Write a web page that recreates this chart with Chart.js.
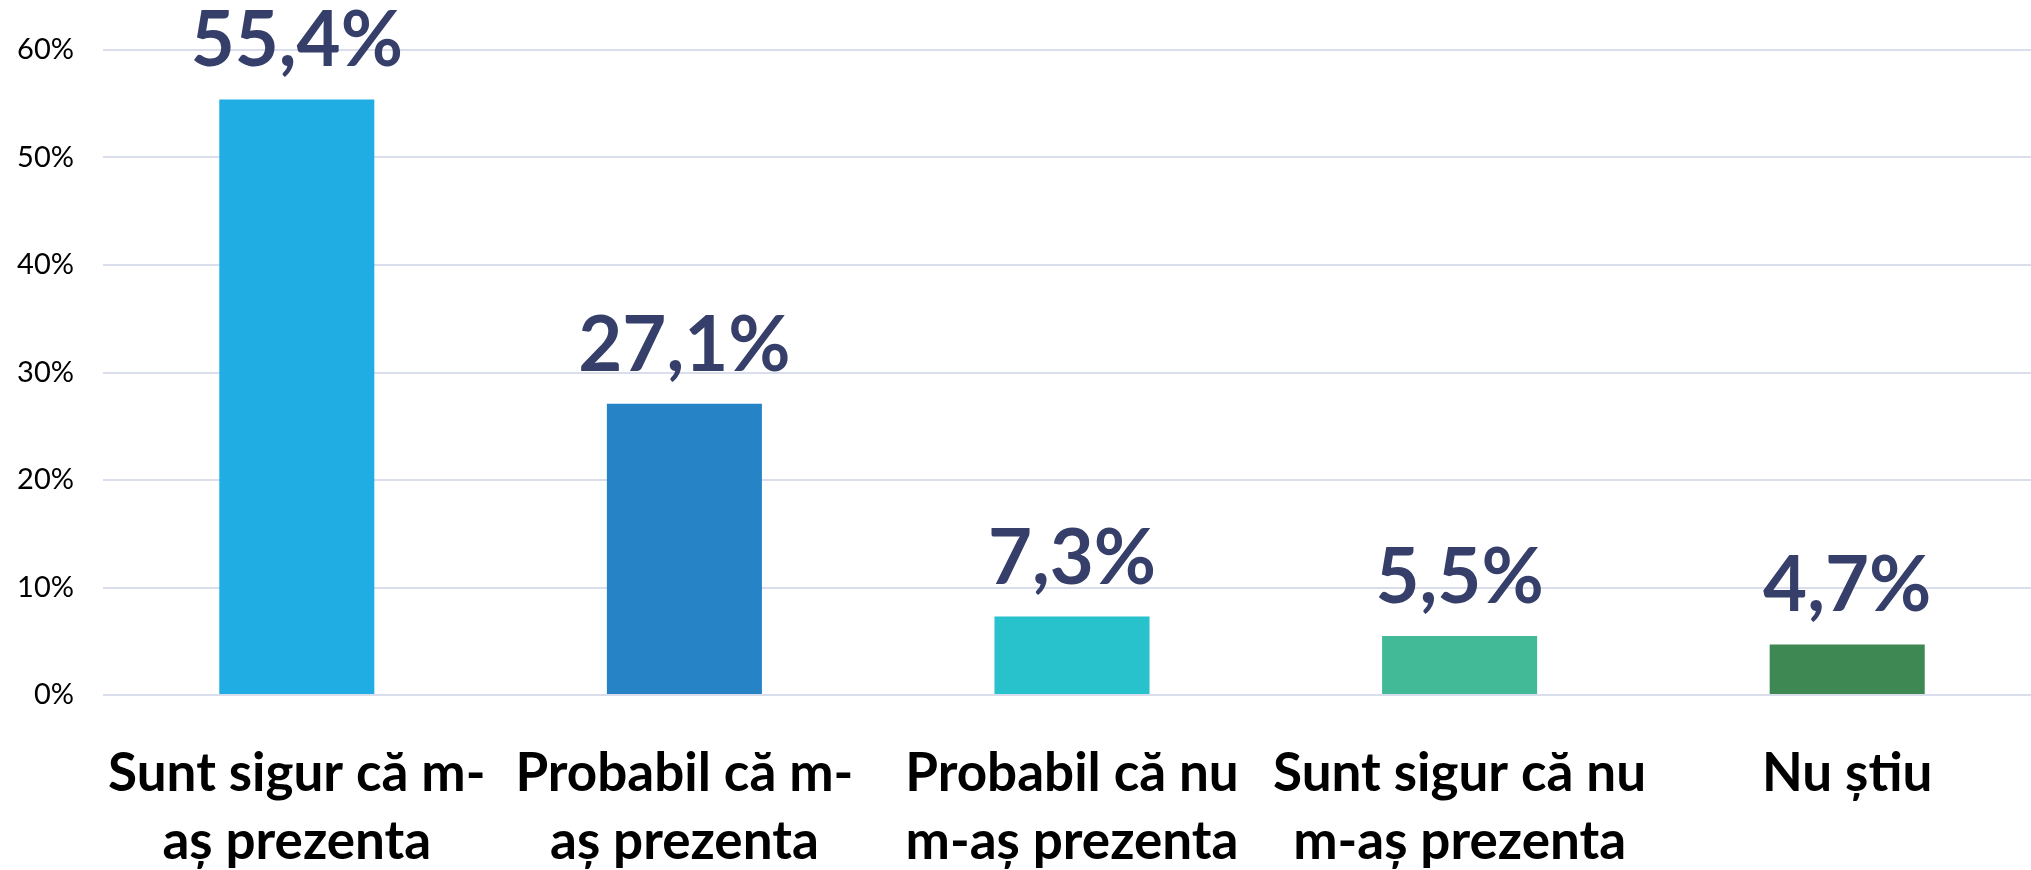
<!DOCTYPE html>
<html>
<head>
<meta charset="utf-8">
<script src="https://cdn.jsdelivr.net/npm/chart.js@4/dist/chart.umd.min.js"></script>
<style>
  html, body { margin: 0; padding: 0; background: #fff; overflow: hidden; }
  #wrap { width: 2041px; height: 870px; position: relative; }
</style>
</head>
<body>
<div id="wrap"><canvas id="myChart"></canvas></div>
<script>
let categories = [
  ['Sunt sigur că m-', 'aș prezenta'],
  ['Probabil că m-', 'aș prezenta'],
  ['Probabil că nu', 'm-aș prezenta'],
  ['Sunt sigur că nu', 'm-aș prezenta'],
  'Nu știu'
];
let values = [55.4, 27.1, 7.3, 5.5, 4.7];
let colorHex = ['#1FADE4', '#2683C6', '#27C2CC', '#42BA97', '#3E8853'];
let yTicks = [0, 10, 20, 30, 40, 50, 60];

// value labels above each bar, Excel style "55,4%"
let valueLabels = {
  id: 'valueLabels',
  afterDatasetsDraw(chart) {
    let ctx = chart.ctx;
    let meta = chart.getDatasetMeta(0);
    ctx.save();
    ctx.font = 'bold 76px Lato';
    ctx.fillStyle = '#353F6A';
    ctx.textAlign = 'center';
    ctx.textBaseline = 'alphabetic';
    meta.data.forEach((bar, i) => {
      ctx.fillText(values[i].toFixed(1).replace('.', ',') + '%', bar.x, bar.y - 33);
    });
    ctx.restore();
  }
};

let ctx = document.getElementById('myChart').getContext('2d');
let myChart = new Chart(ctx, {
  type: 'bar',
  data: {
    labels: categories,
    datasets: [{
      data: values,
      backgroundColor: colorHex,
      barPercentage: 0.4,
      categoryPercentage: 1
    }]
  },
  options: {
    responsive: true,
    maintainAspectRatio: false,
    animation: false,
    layout: {
      padding: { top: 50, right: 0, bottom: 0, left: 0 }
    },
    plugins: {
      legend: { display: false },
      tooltip: { enabled: false }
    },
    scales: {
      x: {
        afterFit: (s) => { s.height = 175; },
        grid: { display: false, drawTicks: false },
        border: { display: false },
        ticks: {
          color: '#000',
          font: { family: 'Lato', size: 53, weight: 'bold', lineHeight: 1.3 },
          padding: 44,
          maxRotation: 0,
          autoSkip: false
        }
      },
      y: {
        min: 0,
        max: 60,
        afterFit: (s) => { s.width = 103; },
        afterBuildTicks: (s) => { s.ticks = yTicks.map(v => ({ value: v })); },
        grid: { color: '#DADDEB', lineWidth: 2, drawTicks: false },
        border: { display: false },
        ticks: {
          color: '#000',
          padding: 29,
          font: { family: 'Lato', size: 29 },
          callback: (v) => v + '%'
        }
      }
    }
  },
  plugins: [valueLabels]
});
</script>
</body>
</html>
